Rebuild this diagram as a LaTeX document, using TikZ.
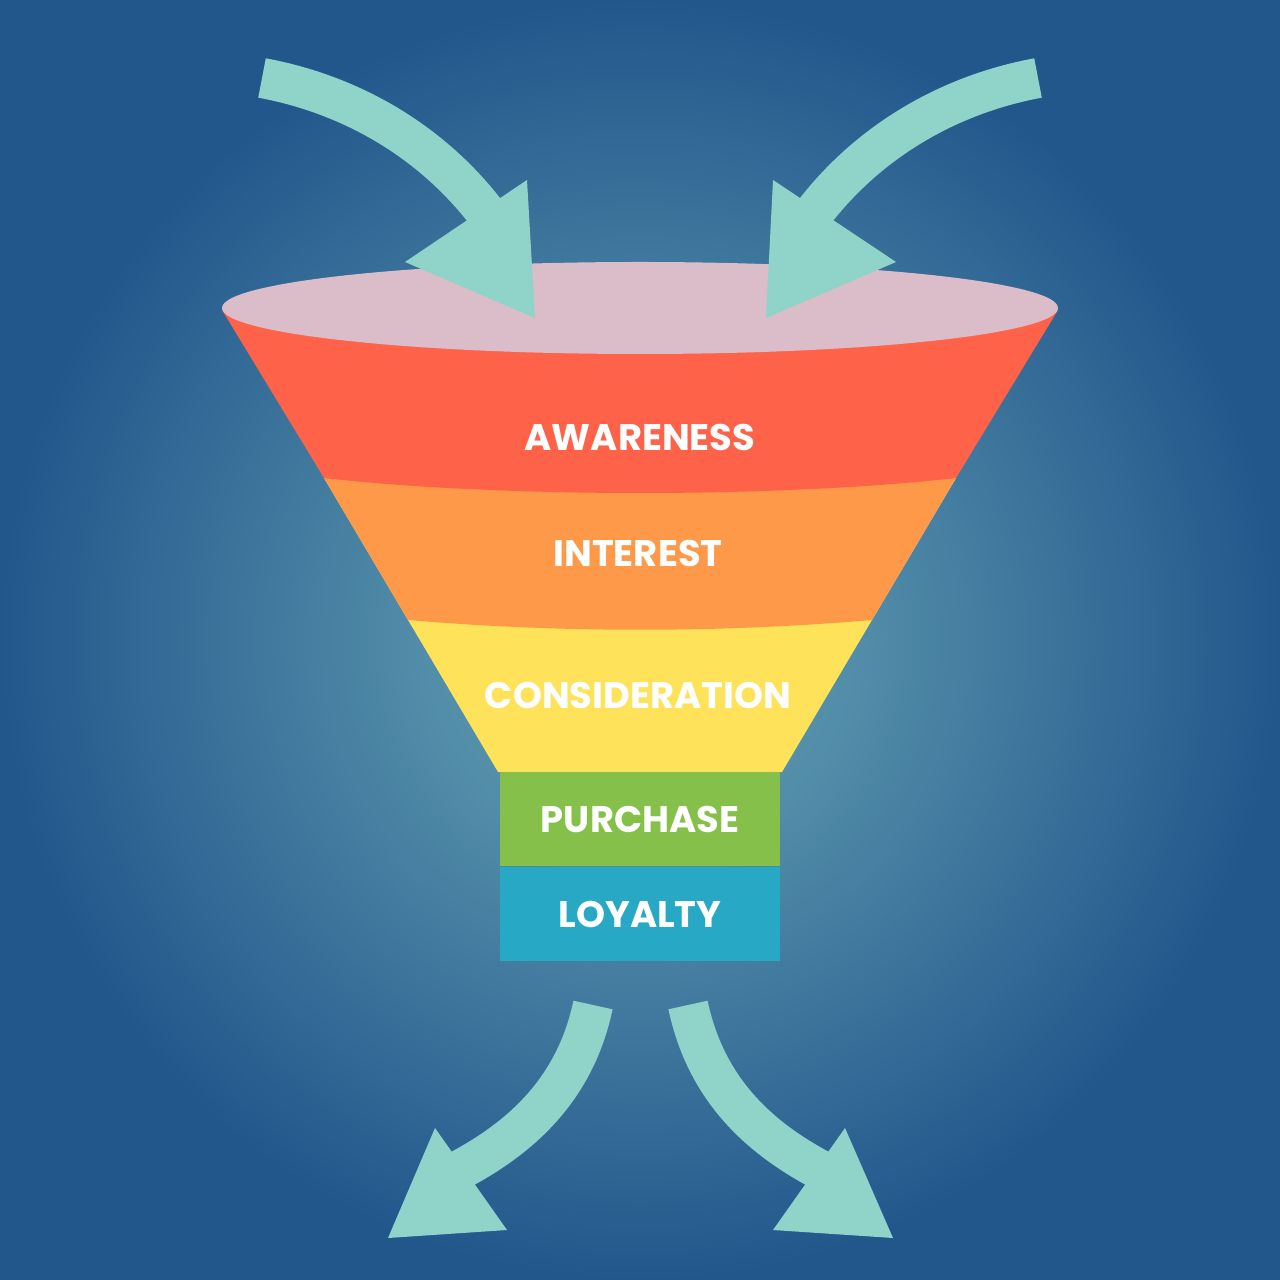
\documentclass[tikz,border=0pt]{standalone}
\usepackage{fontspec}
\setmainfont{Poppins}
\usetikzlibrary{positioning}
\definecolor{bgin}{HTML}{6AA8B7}
\definecolor{bgout}{HTML}{22578C}
\definecolor{arrowc}{HTML}{8FD3C9}
\definecolor{rimc}{HTML}{DBBCC9}
\definecolor{redc}{HTML}{FE634A}
\definecolor{orangec}{HTML}{FE994A}
\definecolor{yellowc}{HTML}{FEE25A}
\definecolor{greenc}{HTML}{84C04A}
\definecolor{bluec}{HTML}{27A8C4}
\begin{document}
\begin{tikzpicture}[
   x=0.01cm,y=-0.01cm,
   shaft/.style={draw=arrowc,line width=11.4pt},
   head/.style={fill=arrowc},
   label/.style={text=white,font=\fontsize{10.5}{12}\selectfont\bfseries}]
% background
\shade[inner color=bgin,outer color=bgout] (0,0) rectangle (1280,1280);
\useasboundingbox (0,0) rectangle (1280,1280);
% funnel bands, painted from the bottom up
\fill[yellowc] (324,478) -- (498,772) -- (782,772) -- (956,478) -- cycle;
\fill[orangec] (324,478) -- (408,620) .. controls (560,633) and (720,633) .. (872,620) -- (956,478) -- cycle;
\fill[redc] (222,310) -- (324,478) .. controls (500,498) and (780,498) .. (956,478) -- (1058,310) -- cycle;
\fill[rimc] (640,308) ellipse [x radius=418, y radius=46];
\node[fill=greenc,minimum width=2.8cm,minimum height=0.94cm,inner sep=0] (purchase) at (640,819) {};
\node[fill=bluec,minimum width=2.8cm,minimum height=0.94cm,inner sep=0,below=0pt of purchase] (loyalty) {};
% labels
\node[label] (awareness) at (640,437) {AWARENESS};
\node[label] (interest) at (638,553) {INTEREST};
\node[label] (consideration) at (638,695) {CONSIDERATION};
\node[label] at (purchase) {PURCHASE};
\node[label] at (loyalty) {LOYALTY};
% incoming arrows
\coordinate (tlA) at (262,78);
\coordinate (tlB) at (505,240);
\coordinate (trA) at (1038,78);
\coordinate (trB) at (795,240);
\draw[shaft] (tlA) .. controls (370,98) and (455,160) .. (tlB);
\fill[head] (405,262) -- (527,180) -- (535,318) -- cycle;
\draw[shaft] (trA) .. controls (930,98) and (845,160) .. (trB);
\fill[head] (896,262) -- (773,180) -- (766,318) -- cycle;
% outgoing arrows
\coordinate (blA) at (593,1005);
\coordinate (blB) at (450,1175);
\coordinate (brA) at (688,1005);
\coordinate (brB) at (830,1175);
\draw[shaft] (blA) .. controls (575,1090) and (520,1140) .. (blB);
\fill[head] (388,1238) -- (435,1128) -- (507,1230) -- cycle;
\draw[shaft] (brA) .. controls (706,1090) and (760,1140) .. (brB);
\fill[head] (893,1238) -- (845,1128) -- (773,1230) -- cycle;
\end{tikzpicture}
\end{document}
